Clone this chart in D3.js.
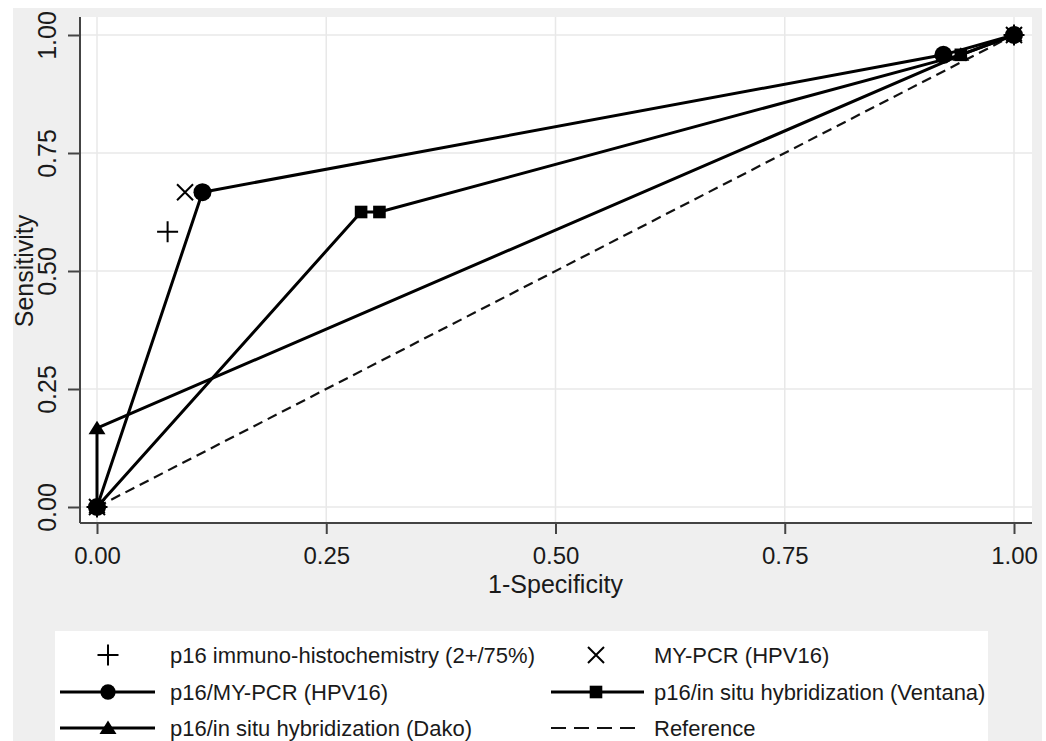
<!DOCTYPE html>
<html>
<head>
<meta charset="utf-8">
<script src="https://cdn.jsdelivr.net/npm/d3@7"></script>
<style>
  body { margin: 0; background: #fff; }
  text { font-family: Arial, "Liberation Sans", Helvetica, sans-serif; fill: #1a1a1a; }
</style>
</head>
<body>
<div id="chart"></div>
<script>
// ROC points: [1-specificity, sensitivity]
var ihcPoints = [[0, 0], [0.077, 0.583], [1, 1]];
var myPcrPoints = [[0, 0], [0.096, 0.667], [1, 1]];
var p16MyPcrPoints = [[0, 0], [0.115, 0.667], [0.923, 0.958], [1, 1]];
var ventanaPoints = [[0, 0], [0.288, 0.625], [0.308, 0.625], [0.942, 0.958], [1, 1]];
var dakoPoints = [[0, 0], [0, 0.167], [0.942, 0.958], [1, 1]];
var referencePoints = [[0, 0], [1, 1]];

var tickValues = [0, 0.25, 0.5, 0.75, 1];
var xTitle = "1-Specificity";
var yTitle = "Sensitivity";

// legend entries, in reading order (two columns)
var legendNames = [
  "p16 immuno-histochemistry (2+/75%)",
  "MY-PCR (HPV16)",
  "p16/MY-PCR (HPV16)",
  "p16/in situ hybridization (Ventana)",
  "p16/in situ hybridization (Dako)",
  "Reference"
];
var legendKinds = ["plus", "cross", "circle", "square", "triangle", "dash"];

var width = 1046, height = 741;
var region = { left: 80, top: 17, right: 1032, bottom: 523 };

var svg = d3.select("#chart").append("svg")
  .attr("width", width)
  .attr("height", height);

// outer graph region (grey) and plot region (white)
svg.append("rect")
  .attr("x", 13).attr("y", 8)
  .attr("width", 1029).attr("height", height - 8)
  .attr("fill", "#efefef");
svg.append("rect")
  .attr("x", region.left).attr("y", region.top)
  .attr("width", region.right - region.left)
  .attr("height", region.bottom - region.top)
  .attr("fill", "#fff");

var x = d3.scaleLinear().domain([0, 1]).range([97, 1014]);
var y = d3.scaleLinear().domain([0, 1]).range([507, 35]);

// grid lines
svg.append("g").selectAll("line.gx")
  .data(tickValues).enter().append("line")
  .attr("x1", d => x(d)).attr("x2", d => x(d))
  .attr("y1", region.top).attr("y2", region.bottom)
  .attr("stroke", "#e8e8e8").attr("stroke-width", 1.5);
svg.append("g").selectAll("line.gy")
  .data(tickValues).enter().append("line")
  .attr("x1", region.left).attr("x2", region.right)
  .attr("y1", d => y(d)).attr("y2", d => y(d))
  .attr("stroke", "#e8e8e8").attr("stroke-width", 1.5);

// axes
var fmt = d3.format(".2f");
var xAxis = svg.append("g")
  .attr("transform", "translate(0," + region.bottom + ")")
  .call(d3.axisBottom(x).tickValues(tickValues).tickFormat(fmt).tickSize(11).tickSizeOuter(0));
var yAxis = svg.append("g")
  .attr("transform", "translate(" + region.left + ",0)")
  .call(d3.axisLeft(y).tickValues(tickValues).tickFormat(fmt).tickSize(12).tickSizeOuter(0));

[xAxis, yAxis].forEach(function (g) {
  g.select(".domain").remove();
  g.selectAll(".tick line").attr("stroke", "#444").attr("stroke-width", 2);
  g.selectAll(".tick text")
    .attr("font-size", 25)
    .attr("fill", "#1a1a1a")
    .attr("font-family", "Arial, 'Liberation Sans', sans-serif");
});
xAxis.selectAll(".tick text").attr("font-size", 24).attr("y", 41).attr("dy", 0);
yAxis.selectAll(".tick text")
  .attr("transform", "rotate(-90)")
  .attr("text-anchor", "middle")
  .attr("x", 0).attr("y", -24).attr("dy", 0);

// axis lines offset from the data area
svg.append("line")
  .attr("x1", region.left).attr("x2", region.left)
  .attr("y1", region.top).attr("y2", region.bottom)
  .attr("stroke", "#444").attr("stroke-width", 2);
svg.append("line")
  .attr("x1", region.left).attr("x2", region.right)
  .attr("y1", region.bottom).attr("y2", region.bottom)
  .attr("stroke", "#444").attr("stroke-width", 2);

// axis titles
svg.append("text")
  .attr("x", (x(0) + x(1)) / 2).attr("y", 593)
  .attr("text-anchor", "middle").attr("font-size", 25)
  .text(xTitle);
svg.append("text")
  .attr("transform", "translate(33," + (y(0) + y(1)) / 2 + ") rotate(-90)")
  .attr("text-anchor", "middle").attr("font-size", 25)
  .text(yTitle);

var line = d3.line().x(d => x(d[0])).y(d => y(d[1]));

// reference diagonal
svg.append("path")
  .datum(referencePoints)
  .attr("d", line)
  .attr("fill", "none").attr("stroke", "#111")
  .attr("stroke-width", 2.2).attr("stroke-dasharray", "10,6");

// connected ROC curves
[dakoPoints, ventanaPoints, p16MyPcrPoints].forEach(function (pts) {
  svg.append("path")
    .datum(pts)
    .attr("d", line)
    .attr("fill", "none").attr("stroke", "#000")
    .attr("stroke-width", 3).attr("stroke-linejoin", "round");
});

// marker drawing helper
function drawMarker(g, kind, cx, cy, s) {
  s = s || 1;
  if (kind == "circle") {
    g.append("circle").attr("cx", cx).attr("cy", cy).attr("r", 9 * s).attr("fill", "#000");
  } else if (kind == "square") {
    var h = 6.3 * s;
    g.append("rect").attr("x", cx - h).attr("y", cy - h)
      .attr("width", 2 * h).attr("height", 2 * h).attr("fill", "#000");
  } else if (kind == "triangle") {
    g.append("path")
      .attr("d", "M" + cx + "," + (cy - 7.5 * s) + "L" + (cx + 8.5 * s) + "," + (cy + 6 * s) +
        "L" + (cx - 8.5 * s) + "," + (cy + 6 * s) + "Z")
      .attr("fill", "#000");
  } else if (kind == "plus") {
    var p = 10.5 * s;
    g.append("path")
      .attr("d", "M" + (cx - p) + "," + cy + "H" + (cx + p) + "M" + cx + "," + (cy - p) + "V" + (cy + p))
      .attr("stroke", "#000").attr("stroke-width", 2).attr("fill", "none");
  } else if (kind == "cross") {
    var c = 8 * s;
    g.append("path")
      .attr("d", "M" + (cx - c) + "," + (cy - c) + "L" + (cx + c) + "," + (cy + c) +
        "M" + (cx - c) + "," + (cy + c) + "L" + (cx + c) + "," + (cy - c))
      .attr("stroke", "#000").attr("stroke-width", 2).attr("fill", "none");
  }
}

var markers = svg.append("g");
[[ihcPoints, "plus"], [myPcrPoints, "cross"], [dakoPoints, "triangle"],
 [ventanaPoints, "square"], [p16MyPcrPoints, "circle"]].forEach(function (s) {
  s[0].forEach(function (d) {
    drawMarker(markers, s[1], x(d[0]), y(d[1]));
  });
});

// legend
var legend = svg.append("g");
legend.append("rect")
  .attr("x", 55).attr("y", 631)
  .attr("width", 933).attr("height", height - 631 + 5)
  .attr("fill", "#fff");

var rowY = [655, 692, 728];
var colSym = [108, 596];
var colLine = [[60, 155], [551, 644]];
var colText = [170, 654];

legendNames.forEach(function (name, i) {
  var col = i % 2, row = Math.floor(i / 2);
  var kind = legendKinds[i];
  var cy = rowY[row];
  if (kind == "dash") {
    legend.append("line")
      .attr("x1", colLine[col][0]).attr("x2", colLine[col][1] - 4)
      .attr("y1", cy).attr("y2", cy)
      .attr("stroke", "#111").attr("stroke-width", 2.2)
      .attr("stroke-dasharray", "15,8");
  } else if (kind != "plus" && kind != "cross") {
    legend.append("line")
      .attr("x1", colLine[col][0]).attr("x2", colLine[col][1])
      .attr("y1", cy).attr("y2", cy)
      .attr("stroke", "#000").attr("stroke-width", 3);
  }
  if (kind != "dash") drawMarker(legend, kind, colSym[col], cy, kind == "circle" ? 0.85 : 1);
  legend.append("text")
    .attr("x", colText[col]).attr("y", cy + 8)
    .attr("font-size", 22)
    .text(name);
});
</script>
</body>
</html>
